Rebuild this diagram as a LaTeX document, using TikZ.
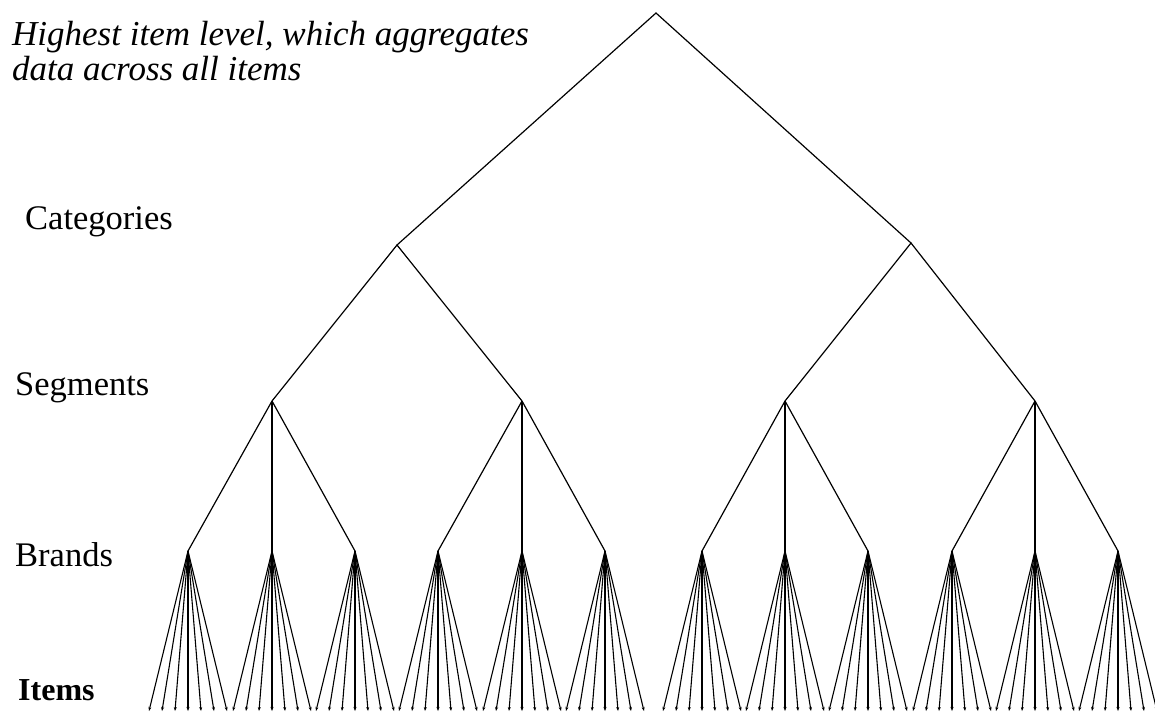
\documentclass[tikz,border=0pt]{standalone}
\usepackage{fontspec}
\setmainfont{Liberation Serif}
\usetikzlibrary{arrows.meta}
\tikzset{
  edge/.style={line width=1.2pt, black},
  leaf/.style={line width=1.1pt, black, -{Stealth[length=4pt,width=3pt]}},
  lvl/.style={anchor=west, inner sep=0pt, font=\fontsize{34.5}{36}\selectfont},
}
\begin{document}
\begin{tikzpicture}[x=1pt,y=-1pt]
\useasboundingbox (0,0) rectangle (1155,713);
% labels
\node[lvl, anchor=base west, align=left, font=\fontsize{35}{35}\selectfont\itshape] (top) at (12,45)
  {Highest item level, which aggregates};
\node[lvl, anchor=base west, font=\fontsize{35}{35}\selectfont\itshape] (top2) at (12,80)
  {data across all items};
\node[lvl] (lcat) at (25,222) {Categories};
\node[lvl] (lseg) at (15,388) {Segments};
\node[lvl] (lbr) at (15,555) {Brands};
\node[lvl, font=\fontsize{32}{34}\selectfont\bfseries] (lit) at (18,690) {Items};
% tree nodes
\coordinate (r) at (656,13);
\coordinate (c1) at (397,245);
\coordinate (c2) at (911,243);
\coordinate (s1) at (272,401);
\coordinate (s2) at (522,401);
\coordinate (s3) at (785,401);
\coordinate (s4) at (1035,401);
\foreach \i/\x in {1/188,2/272,3/355,4/438,5/522,6/605,7/702,8/785,9/868,10/952,11/1035,12/1118}
  \coordinate (b\i) at (\x,551);
\draw[edge] (c1) -- (r) -- (c2);
\draw[edge] (s1) -- (c1) -- (s2);
\draw[edge] (s3) -- (c2) -- (s4);
\foreach \s/\a/\b/\c in {1/1/2/3,2/4/5/6,3/7/8/9,4/10/11/12}{
  \draw[edge] (s\s) -- (b\a);
  \draw[edge] (s\s) -- (b\b);
  \draw[edge] (s\s) -- (b\c);
}
\foreach \i in {1,...,12}{
  \foreach \k/\d in {1/-39,2/-26,3/-13,4/0,5/13,6/26,7/39}{
    \path (b\i) ++(\d,160) coordinate (it\i-\k);
    \draw[leaf] (b\i) -- (it\i-\k);
  }
}
\end{tikzpicture}
\end{document}
